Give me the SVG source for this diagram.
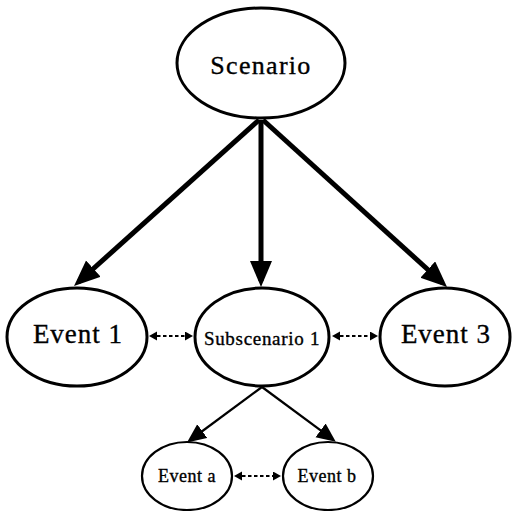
<svg xmlns="http://www.w3.org/2000/svg" width="512" height="511" viewBox="0 0 512 511">
<defs>
<style>
.node ellipse{fill:#fff;stroke:#000;stroke-width:3}
.small ellipse{stroke-width:2.2}
text{font-family:"Liberation Serif","DejaVu Serif",serif;fill:#000;stroke:#000;stroke-width:0.35;text-anchor:middle}
.thick{stroke:#000;stroke-width:5;fill:none}
.thin{stroke:#000;stroke-width:2.2;fill:none}
.dot{stroke:#000;stroke-width:2;fill:none;stroke-dasharray:3.5 2.5}
</style>
<marker id="big" markerUnits="userSpaceOnUse" markerWidth="30" markerHeight="26" refX="20" refY="11" orient="auto">
<path d="M0,0 L26,11 L0,22 z" fill="#000"/>
</marker>
<marker id="mid" markerUnits="userSpaceOnUse" markerWidth="22" markerHeight="20" refX="14" refY="8.5" orient="auto">
<path d="M0,0 L19,8.5 L0,17 z" fill="#000"/>
</marker>
<marker id="sm" markerUnits="userSpaceOnUse" markerWidth="10" markerHeight="10" refX="6" refY="4.5" orient="auto-start-reverse">
<path d="M0,0 L8,4.5 L0,9 z" fill="#000"/>
</marker>
</defs>
<g id="connectors">
<line class="thick" x1="259" y1="120" x2="78.5" y2="282" marker-end="url(#big)"/>
<line class="thick" x1="261" y1="120" x2="261" y2="281" marker-end="url(#big)"/>
<line class="thick" x1="263" y1="120" x2="442.6" y2="283" marker-end="url(#big)"/>
<line class="thin" x1="262" y1="387" x2="191" y2="439.5" marker-end="url(#mid)"/>
<line class="thin" x1="262" y1="387" x2="331.8" y2="438.7" marker-end="url(#mid)"/>
<line class="dot" x1="151" y1="336" x2="191" y2="336" marker-start="url(#sm)" marker-end="url(#sm)"/>
<line class="dot" x1="334" y1="336" x2="376" y2="336" marker-start="url(#sm)" marker-end="url(#sm)"/>
<line class="dot" x1="236" y1="476" x2="279" y2="476" marker-start="url(#sm)" marker-end="url(#sm)"/>
</g>
<g id="scenario" class="node">
<ellipse cx="261" cy="63" rx="84" ry="55"/>
<text x="261" y="74" font-size="26" letter-spacing="1.3">Scenario</text>
</g>
<g id="event1" class="node">
<ellipse cx="77" cy="337" rx="70" ry="49"/>
<text x="78" y="343" font-size="27" letter-spacing="1">Event 1</text>
</g>
<g id="subscenario1" class="node">
<ellipse cx="262" cy="337" rx="67" ry="49"/>
<text x="262" y="345" font-size="19" letter-spacing="0.7">Subscenario 1</text>
</g>
<g id="event3" class="node">
<ellipse cx="445" cy="337" rx="65" ry="49"/>
<text x="446" y="343" font-size="27" letter-spacing="1">Event 3</text>
</g>
<g id="eventa" class="node small">
<ellipse cx="187" cy="476" rx="45" ry="34"/>
<text x="187" y="482" font-size="18" letter-spacing="0.5">Event a</text>
</g>
<g id="eventb" class="node small">
<ellipse cx="328" cy="476" rx="45" ry="34"/>
<text x="327" y="482" font-size="18" letter-spacing="0.5">Event b</text>
</g>
</svg>
